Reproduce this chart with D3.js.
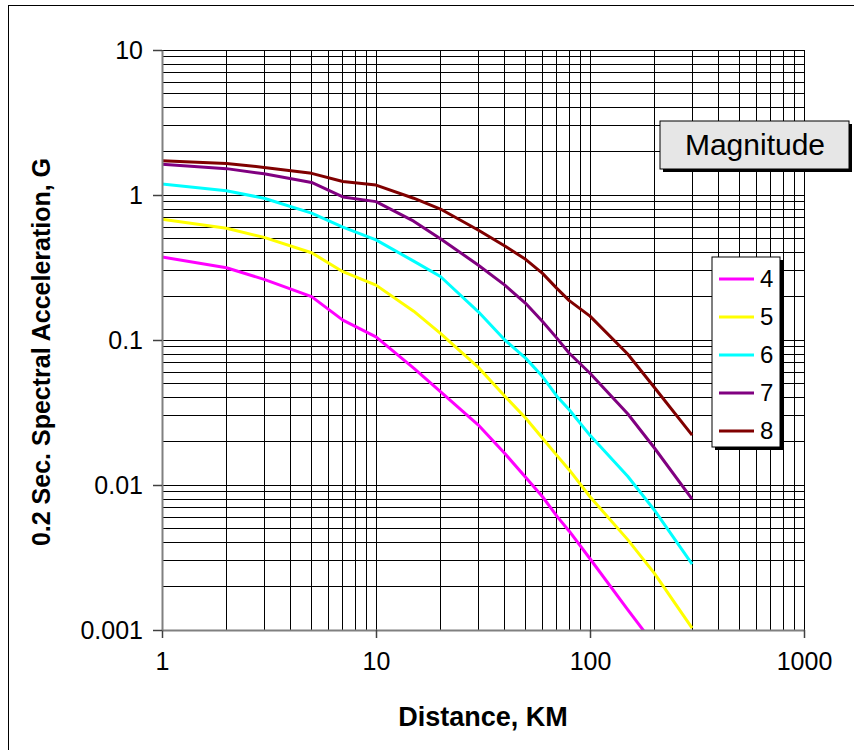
<!DOCTYPE html>
<html>
<head>
<meta charset="utf-8">
<script src="https://cdn.jsdelivr.net/npm/d3@7"></script>
<style>
  body { margin: 0; background: #fff; }
  text { font-family: Arial, "Liberation Sans", sans-serif; }
</style>
</head>
<body>
<div id="wrapper"></div>
<script>
// distances (km)
const distances = [1, 2, 3, 5, 7, 10, 15, 20, 30, 40, 50, 60, 70, 80, 100, 150, 200, 300]

// 0.2 sec spectral acceleration (G), one array per magnitude
const mag4 = [0.373, 0.315, 0.262, 0.199, 0.137, 0.105, 0.064, 0.044, 0.026, 0.0165, 0.0113, 0.0083, 0.0061, 0.0048, 0.0031, 0.00138, 0.00079, 0.00035]
const mag5 = [0.68, 0.59, 0.51, 0.40, 0.296, 0.239, 0.158, 0.111, 0.065, 0.041, 0.029, 0.021, 0.016, 0.0127, 0.0083, 0.0042, 0.00246, 0.00103]
const mag6 = [1.19, 1.07, 0.95, 0.75, 0.60, 0.49, 0.35, 0.274, 0.157, 0.10, 0.075, 0.056, 0.041, 0.033, 0.022, 0.0115, 0.0067, 0.00285]
const mag7 = [1.63, 1.52, 1.40, 1.22, 0.97, 0.90, 0.66, 0.50, 0.329, 0.239, 0.179, 0.134, 0.103, 0.081, 0.059, 0.031, 0.018, 0.0080]
const mag8 = [1.72, 1.65, 1.55, 1.41, 1.24, 1.17, 0.95, 0.80, 0.574, 0.445, 0.36, 0.288, 0.227, 0.187, 0.146, 0.080, 0.047, 0.0221]

const magnitudes = ["4", "5", "6", "7", "8"]
const seriesValues = [mag4, mag5, mag6, mag7, mag8]
const seriesColors = ["#FF00FF", "#FFFF00", "#00FFFF", "#800080", "#800000"]

const xTickLabels = [1, 10, 100, 1000]
const yTickLabels = [0.001, 0.01, 0.1, 1, 10]

function drawChart() {
  const dimensions = {
    width: 854,
    height: 750,
    margin: { top: 50, right: 50, bottom: 120, left: 162 },
  }
  dimensions.boundedWidth = dimensions.width
    - dimensions.margin.left - dimensions.margin.right
  dimensions.boundedHeight = dimensions.height
    - dimensions.margin.top - dimensions.margin.bottom

  const wrapper = d3.select("#wrapper")
    .append("svg")
    .attr("width", dimensions.width)
    .attr("height", dimensions.height)

  // chart frame (right/bottom edges fall outside the picture)
  wrapper.append("rect")
    .attr("x", 8.5)
    .attr("y", 5.5)
    .attr("width", 860)
    .attr("height", 760)
    .attr("fill", "none")
    .attr("stroke", "#000")
    .attr("stroke-width", 1)

  const bounds = wrapper.append("g")
    .attr("transform", `translate(${dimensions.margin.left},${dimensions.margin.top})`)

  const xScale = d3.scaleLog()
    .domain([1, 1000])
    .range([0, dimensions.boundedWidth])

  const yScale = d3.scaleLog()
    .domain([0.001, 10])
    .range([dimensions.boundedHeight, 0])

  // gridlines (major + minor)
  const grid = bounds.append("g")
    .attr("stroke", "#000")
    .attr("stroke-width", 1)
    .attr("shape-rendering", "crispEdges")

  grid.selectAll(".vgrid")
    .data(xScale.ticks())
    .join("line")
      .attr("x1", d => xScale(d))
      .attr("x2", d => xScale(d))
      .attr("y1", 0)
      .attr("y2", dimensions.boundedHeight)

  grid.selectAll(".hgrid")
    .data(yScale.ticks())
    .join("line")
      .attr("x1", 0)
      .attr("x2", dimensions.boundedWidth)
      .attr("y1", d => yScale(d))
      .attr("y2", d => yScale(d))

  // curves
  bounds.append("clipPath")
    .attr("id", "plot-clip")
    .append("rect")
      .attr("width", dimensions.boundedWidth)
      .attr("height", dimensions.boundedHeight)

  const lineGenerator = d3.line()
    .x((d, i) => xScale(distances[i]))
    .y(d => yScale(d))

  bounds.append("g")
    .attr("clip-path", "url(#plot-clip)")
    .selectAll("path")
    .data(seriesValues)
    .join("path")
      .attr("d", d => lineGenerator(d))
      .attr("fill", "none")
      .attr("stroke", (d, i) => seriesColors[i])
      .attr("stroke-width", 3)
      .attr("stroke-linejoin", "round")

  // axes
  const xAxisGenerator = d3.axisBottom(xScale)
    .tickValues(xTickLabels)
    .tickFormat(d3.format("d"))
    .tickSizeInner(8)
    .tickSizeOuter(0)
    .tickPadding(14)

  const xAxis = bounds.append("g")
    .attr("transform", `translate(0,${dimensions.boundedHeight})`)
    .call(xAxisGenerator)
  xAxis.select(".domain").attr("stroke", "#808080").attr("stroke-width", 2)
  xAxis.selectAll(".tick line").attr("stroke", "#404040").attr("stroke-width", 1.5)
  xAxis.selectAll(".tick text")
    .attr("font-size", 25)
    .attr("font-family", "Arial, 'Liberation Sans', sans-serif")
    .attr("fill", "#000")

  const yAxisGenerator = d3.axisLeft(yScale)
    .tickValues(yTickLabels)
    .tickFormat(d => String(d))
    .tickSizeInner(9)
    .tickSizeOuter(0)
    .tickPadding(10)

  const yAxis = bounds.append("g")
    .call(yAxisGenerator)
  yAxis.select(".domain").attr("stroke", "#808080").attr("stroke-width", 2)
  yAxis.selectAll(".tick line").attr("stroke", "#404040").attr("stroke-width", 1.5)
  yAxis.selectAll(".tick text")
    .attr("font-size", 25)
    .attr("font-family", "Arial, 'Liberation Sans', sans-serif")
    .attr("fill", "#000")

  // axis titles
  wrapper.append("text")
    .attr("x", 483)
    .attr("y", 726)
    .attr("text-anchor", "middle")
    .attr("font-size", 27)
    .attr("font-weight", "bold")
    .text("Distance, KM")

  wrapper.append("text")
    .attr("transform", "translate(50,352) rotate(-90)")
    .attr("text-anchor", "middle")
    .attr("font-size", 25)
    .attr("font-weight", "bold")
    .text("0.2 Sec. Spectral Acceleration, G")

  // "Magnitude" label box with shadow
  const magBox = wrapper.append("g")
    .attr("transform", "translate(660,121)")
  magBox.append("rect")
    .attr("x", 3).attr("y", 3)
    .attr("width", 189).attr("height", 48)
    .attr("fill", "#000")
  magBox.append("rect")
    .attr("width", 189).attr("height", 48)
    .attr("fill", "#E6E6E6")
    .attr("stroke", "#000")
    .attr("stroke-width", 1)
  magBox.append("text")
    .attr("x", 95).attr("y", 34)
    .attr("text-anchor", "middle")
    .attr("font-size", 30)
    .text("Magnitude")

  // legend
  const legend = wrapper.append("g")
    .attr("transform", "translate(712,257)")
  legend.append("rect")
    .attr("x", 3).attr("y", 3)
    .attr("width", 68).attr("height", 190)
    .attr("fill", "#000")
  legend.append("rect")
    .attr("width", 68).attr("height", 190)
    .attr("fill", "#fff")
    .attr("stroke", "#000")
    .attr("stroke-width", 1)

  const items = legend.selectAll(".item")
    .data(magnitudes)
    .join("g")
      .attr("transform", (d, i) => `translate(0,${22 + i * 38})`)
  items.append("line")
    .attr("x1", 7).attr("x2", 42)
    .attr("stroke", (d, i) => seriesColors[i])
    .attr("stroke-width", 3)
  items.append("text")
    .attr("x", 48)
    .attr("y", 8)
    .attr("font-size", 24)
    .text(d => d)
}
drawChart()
</script>
</body>
</html>
